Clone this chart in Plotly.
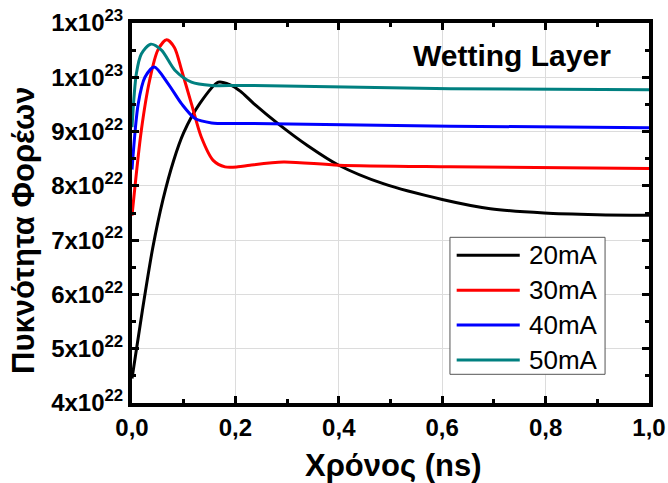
import plotly.graph_objects as go

# time (ns) and carrier density (units of 1e22 m^-3)
t_20 = [0.0, 0.02, 0.04, 0.06, 0.08, 0.1, 0.13, 0.167, 0.19, 0.21, 0.235, 0.286, 0.34, 0.4, 0.486, 0.6, 0.693, 0.797, 0.9, 1.0]
n_20 = [4.45, 5.7, 6.85, 7.75, 8.45, 8.98, 9.5, 9.91, 9.86, 9.74, 9.52, 9.12, 8.74, 8.38, 8.04, 7.75, 7.58, 7.50, 7.47, 7.46]

t_30 = [0.0, 0.018, 0.034, 0.05, 0.067, 0.082, 0.096, 0.115, 0.134, 0.157, 0.18, 0.205, 0.228, 0.293, 0.4, 0.616, 1.0]
n_30 = [7.45, 9.02, 9.94, 10.5, 10.69, 10.55, 10.13, 9.51, 8.9, 8.47, 8.35, 8.35, 8.38, 8.44, 8.38, 8.35, 8.32]

t_40 = [0.0, 0.012, 0.025, 0.043, 0.07, 0.096, 0.122, 0.154, 0.2, 0.228, 0.616, 1.0]
n_40 = [8.3, 9.51, 10.0, 10.19, 9.88, 9.51, 9.24, 9.16, 9.15, 9.15, 9.10, 9.07]

t_50 = [0.0, 0.0085, 0.018, 0.036, 0.057, 0.083, 0.115, 0.154, 0.2, 0.228, 0.616, 1.0]
n_50 = [9.08, 10.07, 10.43, 10.61, 10.5, 10.13, 9.91, 9.85, 9.85, 9.85, 9.79, 9.77]

names = ["20mA", "30mA", "40mA", "50mA"]
colors = ["#000000", "#ff0000", "#0000ff", "#008080"]
times = [t_20, t_30, t_40, t_50]
dens = [n_20, n_30, n_40, n_50]

y_tickvals = [4e22, 5e22, 6e22, 7e22, 8e22, 9e22, 1e23, 1.1e23]
y_ticktext = ["4x10<sup>22</sup>", "5x10<sup>22</sup>", "6x10<sup>22</sup>", "7x10<sup>22</sup>",
              "8x10<sup>22</sup>", "9x10<sup>22</sup>", "1x10<sup>23</sup>", "1x10<sup>23</sup>"]
x_tickvals = [0, 0.2, 0.4, 0.6, 0.8, 1.0]

FONT = "Liberation Sans, Arial, sans-serif"

fig = go.Figure()
for name, t, n, c in zip(names, times, dens, colors):
    fig.add_trace(go.Scatter(
        x=t, y=[v * 1e22 for v in n], name=name, mode="lines",
        line=dict(color=c, width=3, shape="spline", smoothing=0.8),
        showlegend=False,
    ))

# manual legend (paper coordinates)
shapes = [dict(type="rect", xref="paper", yref="paper", x0=0.615, x1=0.915, y0=0.0755, y1=0.436,
               line=dict(color="#555555", width=1), fillcolor="white", layer="above")]
annotations = []
row_y = [0.389, 0.297, 0.205, 0.113]
for name, c, yy in zip(names, colors, row_y):
    shapes.append(dict(type="line", xref="paper", yref="paper", x0=0.628, x1=0.750, y0=yy, y1=yy,
                       line=dict(color=c, width=3), layer="above"))
    annotations.append(dict(text=name, x=0.764, y=yy, xref="paper", yref="paper",
                            xanchor="left", yanchor="middle", showarrow=False,
                            font=dict(size=26, family=FONT, color="black")))

annotations.append(dict(
    text="<b>Wetting Layer</b>", x=0.930, y=0.915, xref="paper", yref="paper",
    xanchor="right", yanchor="middle", showarrow=False,
    font=dict(size=30, family=FONT, color="black")))
annotations.append(dict(
    text="<b>Χρόνος (ns)</b>", x=0.505, y=-0.164, xref="paper", yref="paper",
    xanchor="center", yanchor="middle", showarrow=False,
    font=dict(size=31, family=FONT, color="black")))
annotations.append(dict(
    text="<b>Πυκνότητα Φορέων</b>", x=-0.21, y=0.454, xref="paper", yref="paper",
    xanchor="center", yanchor="middle", showarrow=False, textangle=-90,
    font=dict(size=31, family=FONT, color="black")))

fig.update_layout(
    width=668, height=483,
    margin=dict(l=132, r=19, t=23, b=80),
    paper_bgcolor="white", plot_bgcolor="white",
    separators=",.",
    font=dict(family=FONT, color="black"),
    showlegend=False,
    shapes=shapes,
    annotations=annotations,
)

fig.update_xaxes(
    range=[0, 1], tickvals=x_tickvals, tickformat=".1f", automargin=False,
    showline=True, linecolor="black", linewidth=4, mirror="allticks",
    ticks="inside", ticklen=7, tickwidth=3, tickcolor="black",
    minor=dict(ticks="inside", ticklen=4, tickwidth=3, tickcolor="black", dtick=0.1, showgrid=False),
    showgrid=True, gridcolor="#dcdcdc", gridwidth=1, zeroline=False,
    tickfont=dict(size=24, family=FONT, weight="bold"),
)
fig.update_yaxes(
    range=[4e22, 1.1e23], tickvals=y_tickvals, ticktext=y_ticktext, automargin=False,
    showline=True, linecolor="black", linewidth=4, mirror="allticks",
    ticks="inside", ticklen=7, tickwidth=3, tickcolor="black",
    minor=dict(ticks="inside", ticklen=4, tickwidth=3, tickcolor="black", dtick=5e21, showgrid=False),
    showgrid=True, gridcolor="#dcdcdc", gridwidth=1, zeroline=False,
    tickfont=dict(size=24, family=FONT, weight="bold"),
)

fig.write_html("out.html")
